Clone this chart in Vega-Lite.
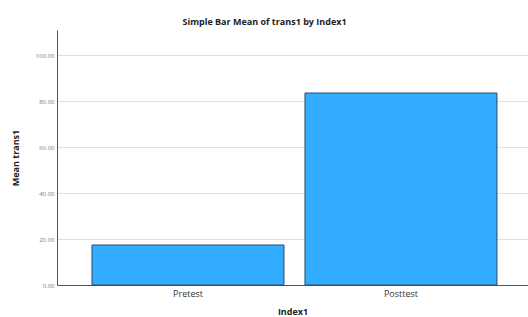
{
  "$schema": "https://vega.github.io/schema/vega-lite/v6.json",
  "autosize": {"type": "none"},
  "padding": {"left": 57, "top": 30, "right": 0, "bottom": 32},
  "width": 471,
  "height": 255,
  "background": "white",
  "title": {
    "text": "Simple Bar Mean of trans1 by Index1",
    "font": "Open Sans",
    "fontSize": 9,
    "fontWeight": "bold",
    "color": "#222222",
    "anchor": "middle",
    "dx": -28,
    "offset": 3
  },
  "data": {
    "values": [
      {"Index1": "Pretest", "mean": 17.4},
      {"Index1": "Posttest", "mean": 83.5}
    ]
  },
  "config": {
    "view": {"stroke": null},
    "font": "Open Sans"
  },
  "mark": {"type": "bar", "color": "#33adff", "stroke": "#2a4a66", "strokeWidth": 1},
  "encoding": {
    "x": {
      "field": "Index1",
      "type": "nominal",
      "sort": ["Pretest", "Posttest"],
      "scale": {"paddingInner": 0.0986, "paddingOuter": 0.155, "align": 0.53},
      "axis": {
        "title": "Index1",
        "titleFont": "Open Sans",
        "titleFontSize": 9,
        "titleFontWeight": "bold",
        "titleColor": "#222222",
        "titlePadding": 9,
        "labelAngle": 0,
        "labelFont": "Open Sans",
        "labelFontSize": 9,
        "labelColor": "#333333",
        "labelPadding": 4,
        "ticks": false,
        "domainColor": "#555555",
        "domainWidth": 1
      }
    },
    "y": {
      "field": "mean",
      "type": "quantitative",
      "scale": {"domain": [0, 110.9], "nice": false},
      "axis": {
        "title": "Mean trans1",
        "titleFont": "Open Sans",
        "titleFontSize": 9,
        "titleFontWeight": "bold",
        "titleColor": "#222222",
        "titlePadding": 15,
        "values": [0, 20, 40, 60, 80, 100],
        "format": ".2f",
        "labelFont": "Open Sans",
        "labelFontSize": 6,
        "labelColor": "#777777",
        "labelPadding": 3,
        "ticks": false,
        "grid": true,
        "gridColor": "#e0e0e0",
        "gridWidth": 1,
        "domainColor": "#555555",
        "domainWidth": 1
      }
    }
  }
}
